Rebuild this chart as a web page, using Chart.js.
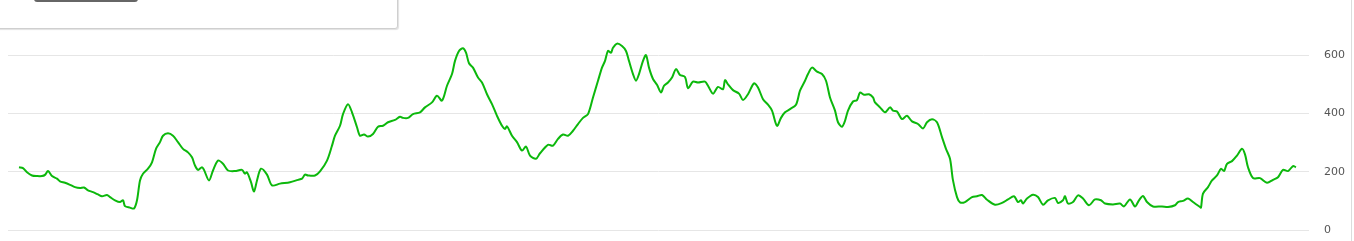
<!DOCTYPE html>
<html>
<head>
<meta charset="utf-8">
<script src="https://cdn.jsdelivr.net/npm/chart.js@4/dist/chart.umd.min.js"></script>
<style>
  html, body { margin: 0; padding: 0; background: #fff; overflow: hidden; }
  #wrap { position: relative; width: 1354px; height: 241px; overflow: hidden; }
  #edge { position: absolute; left: 1351px; top: 0; width: 1px; height: 241px; background: #dcdcdc; }
  #chartBox { position: absolute; left: 0; top: -25px; width: 1354px; height: 277px; }
  #panel {
    position: absolute; left: -4px; top: -6px; width: 400px; height: 33px;
    background: #fff; border: 1px solid #cfcfcf; border-radius: 0 0 3px 0;
    box-shadow: 1px 1px 1px rgba(0,0,0,0.12);
  }
  #panelBtn {
    position: absolute; left: 37px; top: 0; width: 104px; height: 7px;
    background: #666; border-radius: 0 0 3px 3px;
  }
</style>
</head>
<body>
<div id="wrap">
  <div id="chartBox"><canvas id="profile"></canvas></div>
  <div id="edge"></div>
  <div id="panel"><div id="panelBtn"></div></div>
</div>
<script>
// distance along the route (km) and elevation (m)
const distances = [
  0.1, 0.5, 0.9, 1.4, 1.9, 2.4, 2.7, 3.0, 3.4, 3.9, 4.2, 4.7, 5.2, 5.7, 6.2, 6.6, 7.0, 7.5, 8.0, 8.4,
  8.9, 9.2, 9.7, 10.2, 10.5, 10.7, 11.2, 11.6, 11.9, 12.2, 12.5, 13.0, 13.4, 13.8, 14.2, 14.5, 15.0, 15.5, 16.0, 16.5,
  17.0, 17.4, 17.7, 18.0, 18.4, 18.6, 19.1, 19.5, 20.0, 20.5, 21.0, 21.7, 22.4, 22.7, 22.9, 23.3, 23.6, 23.9, 24.3, 24.9,
  25.4, 26.2, 27.2, 28.0, 28.4, 28.7, 29.0, 29.7, 30.2, 30.9, 31.4, 31.7, 32.2, 32.5, 33.0, 33.4, 33.9, 34.2, 34.6, 35.0,
  35.5, 36.0, 36.5, 37.0, 37.7, 38.2, 38.5, 39.0, 39.5, 40.2, 40.7, 41.4, 41.9, 42.4, 42.9, 43.4, 43.7, 44.1, 44.5, 44.8,
  45.1, 45.5, 46.0, 46.4, 46.9, 47.4, 47.9, 48.4, 48.7, 48.9, 49.4, 49.9, 50.4, 50.8, 51.2, 51.8, 52.2, 53.0, 53.5, 54.0,
  54.5, 55.0, 55.5, 56.0, 56.5, 57.0, 57.5, 58.0, 58.4, 58.7, 59.0, 59.3, 59.5, 59.9, 60.4, 60.8, 61.1, 61.5, 61.8, 62.1,
  62.5, 62.8, 63.1, 63.5, 63.9, 64.3, 64.6, 65.0, 65.4, 65.8, 66.2, 66.7, 67.0, 67.5, 68.0, 68.7, 69.0, 69.5, 70.0, 70.5,
  70.7, 71.0, 71.5, 72.1, 72.5, 73.0, 73.6, 74.0, 74.5, 75.0, 75.4, 75.9, 76.3, 76.7, 77.2, 77.8, 78.2, 78.7, 79.0, 79.4,
  79.9, 80.4, 80.8, 81.2, 81.7, 82.0, 82.4, 82.7, 83.0, 83.5, 83.9, 84.2, 84.6, 85.1, 85.5, 85.7, 86.2, 86.7, 87.2, 87.5,
  87.9, 88.4, 88.9, 89.4, 90.0, 90.5, 90.9, 91.4, 91.9, 92.4, 92.8, 93.2, 93.5, 93.9, 94.2, 94.7, 95.4, 95.9, 96.4, 96.9,
  97.7, 98.4, 99.0, 99.6, 100.0, 100.3, 100.5, 100.9, 101.5, 102.0, 102.5, 103.0, 103.7, 104.0, 104.5, 104.7, 105.0, 105.5, 106.0, 106.5,
  107.1, 107.7, 108.3, 108.7, 109.5, 110.2, 110.6, 111.2, 111.7, 112.1, 112.5, 112.9, 113.5, 114.4, 115.0, 115.7, 116.0, 116.5, 117.0, 117.5,
  118.2, 118.3, 118.5, 119.0, 119.4, 119.9, 120.3, 120.6, 120.9, 121.4, 121.9, 122.4, 122.7, 123.0, 123.5, 124.2, 124.9, 125.5, 126.0, 126.5,
  127.0, 127.5, 127.8
];
const elevations = [
  216, 213, 199, 188, 186, 186, 190, 203, 186, 177, 168, 163, 156, 148, 145, 147, 137, 131, 123, 117,
  121, 114, 103, 97, 103, 83, 78, 75, 103, 171, 194, 211, 233, 279, 302, 324, 332, 324, 302, 279,
  267, 250, 222, 207, 216, 207, 171, 205, 239, 228, 205, 203, 207, 194, 199, 165, 133, 171, 211, 191,
  154, 160, 165, 173, 177, 191, 188, 188, 202, 239, 290, 324, 358, 398, 432, 404, 353, 324, 328, 321,
  330, 355, 358, 370, 378, 389, 385, 385, 398, 404, 421, 438, 461, 444, 495, 535, 580, 614, 623, 608,
  572, 557, 523, 506, 466, 432, 392, 358, 347, 356, 324, 302, 273, 287, 256, 245, 264, 293, 290, 313,
  328, 324, 341, 364, 385, 398, 455, 512, 557, 580, 614, 608, 625, 639, 631, 614, 580, 535, 512, 535,
  580, 600, 557, 518, 498, 472, 495, 506, 523, 552, 532, 525, 487, 509, 506, 509, 495, 468, 491, 483,
  514, 500, 480, 468, 446, 466, 503, 489, 449, 430, 410, 358, 385, 404, 415, 430, 478, 512, 535, 557,
  543, 535, 512, 455, 410, 370, 355, 375, 410, 441, 446, 472, 464, 466, 455, 438, 421, 404, 421, 410,
  407, 381, 392, 373, 364, 349, 370, 380, 370, 319, 279, 245, 171, 114, 96, 97, 114, 117, 121, 105,
  88, 94, 106, 117, 97, 103, 92, 109, 122, 114, 88, 103, 111, 94, 103, 117, 92, 97, 120, 109,
  86, 106, 103, 92, 89, 92, 82, 106, 82, 103, 118, 97, 82, 82, 80, 86, 97, 101, 109, 97,
  80, 78, 126, 148, 171, 188, 211, 203, 228, 237, 256, 279, 260, 216, 179, 179, 163, 173, 182, 207,
  203, 220, 216
];
const yTicks = [0, 200, 400, 600, 800];

const points = distances.map((d, i) => ({ x: d, y: elevations[i] }));

new Chart(document.getElementById('profile'), {
  type: 'line',
  data: {
    datasets: [{
      data: points,
      borderColor: '#0cb80c',
      borderWidth: 2,
      pointRadius: 0,
      tension: 0.3,
      fill: false,
    }],
  },
  options: {
    responsive: true,
    maintainAspectRatio: false,
    animation: false,
    layout: { padding: { left: 8, right: 0, top: 16, bottom: 20 } },
    plugins: { legend: { display: false }, tooltip: { enabled: false } },
    scales: {
      x: {
        type: 'linear',
        min: -1,
        max: 129.1,
        display: false,
      },
      y: {
        position: 'right',
        min: 0,
        max: 800,
        afterFit: (scale) => { scale.width = 45; },
        afterBuildTicks: (scale) => { scale.ticks = yTicks.map(v => ({ value: v })); },
        border: { display: false },
        grid: { color: '#e6e6e6', drawTicks: false },
        ticks: {
          padding: 15,
          color: '#555',
          font: { family: "'DejaVu Sans', sans-serif", size: 11 },
        },
      },
    },
  },
});
</script>
</body>
</html>
